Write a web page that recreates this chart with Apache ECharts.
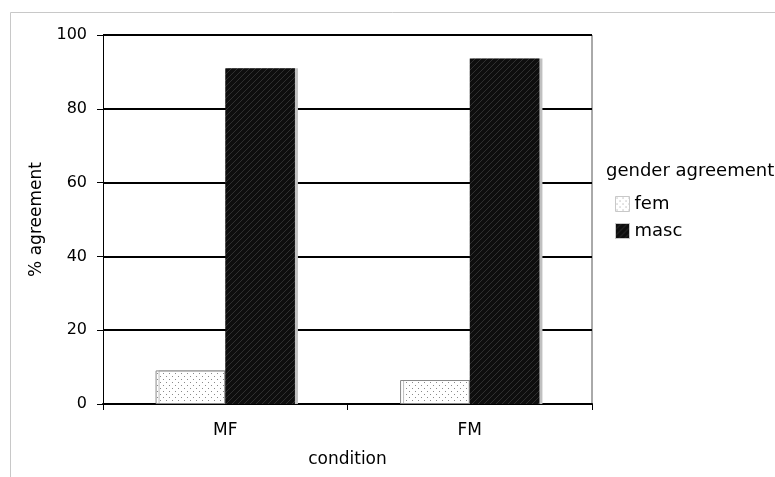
<!DOCTYPE html>
<html><head><meta charset="utf-8">
<script src="https://cdn.jsdelivr.net/npm/echarts@6/dist/echarts.min.js"></script>
<style>html,body{margin:0;padding:0;background:#fff}#c{width:775px;height:477px}</style>
</head><body><div id="c"></div>
<script>
const categories = ['MF', 'FM'];
const femValues = [9.1, 6.5];
const mascValues = [91.0, 93.6];
const seriesNames = ['fem', 'masc'];
const legendTitle = 'gender agreement';
const xName = 'condition';
const yName = '% agreement';

function makePattern(bg, fg, kind) {
  const c = document.createElement('canvas');
  c.width = 6; c.height = 6;
  const g = c.getContext('2d');
  g.fillStyle = bg; g.fillRect(0, 0, 6, 6);
  g.fillStyle = fg;
  if (kind === 'dots') {
    g.fillRect(1, 1, 1, 1);
    g.fillRect(4, 4, 1, 1);
  } else {
    for (let i = 0; i < 6; i++) {
      g.fillRect((i) % 6, 5 - i, 1, 1);
    }
  }
  return c;
}
const femPat = { image: makePattern('#ffffff', '#8a8a8a', 'dots'), repeat: 'repeat' };
const mascPat = { image: makePattern('#0e0e0e', '#303030', 'hatch'), repeat: 'repeat' };

const font = 'DejaVu Sans, Verdana, sans-serif';
const chart = echarts.init(document.getElementById('c'), null, { renderer: 'canvas' });
chart.setOption({
  animation: false,
  backgroundColor: '#fff',
  grid: { left: 103, right: 183, top: 35, bottom: 73 },
  graphic: [
    { type: 'polyline', shape: { points: [[10.5, 477], [10.5, 12.5], [775, 12.5]] },
      style: { stroke: '#c8c8c8', lineWidth: 1, fill: null } },
    { type: 'line', shape: { x1: 592, y1: 35, x2: 592, y2: 404 }, style: { stroke: '#555', lineWidth: 1 } },
    { type: 'text', left: 606, top: 162, style: { text: legendTitle, font: '18px ' + font, fill: '#000' } }
  ],
  legend: {
    left: 615, top: 195, padding: 0, orient: 'vertical', itemWidth: 14, itemHeight: 15, itemGap: 9,
    icon: 'rect', data: seriesNames,
    itemStyle: { borderColor: '#c8c8c8', borderWidth: 1, shadowColor: 'rgba(0,0,0,0)', shadowOffsetX: 0 },
    textStyle: { fontFamily: font, fontSize: 18, lineHeight: 18, color: '#000' }
  },
  xAxis: {
    type: 'category', data: categories,
    name: xName, nameLocation: 'middle', nameGap: 47,
    nameTextStyle: { fontFamily: font, fontSize: 17, color: '#000' },
    axisLine: { lineStyle: { color: '#000', width: 2 } },
    axisTick: { show: true, length: 6, lineStyle: { color: '#000' } },
    axisLabel: { fontFamily: font, fontSize: 17, color: '#000', margin: 18 }
  },
  yAxis: {
    type: 'value', min: 0, max: 100, interval: 20,
    name: yName, nameLocation: 'middle', nameGap: 53,
    nameTextStyle: { fontFamily: font, fontSize: 17, color: '#000' },
    axisLine: { show: true, lineStyle: { color: '#000', width: 1 } },
    axisTick: { show: true, length: 6, lineStyle: { color: '#000' } },
    axisLabel: { fontFamily: font, fontSize: 16, color: '#000', margin: 16 },
    splitLine: { lineStyle: { color: '#000', width: 2 } }
  },
  series: [
    { name: seriesNames[0], type: 'bar', data: femValues, barWidth: '28.5%', barGap: '0%',
      itemStyle: { color: femPat, borderColor: '#888', borderWidth: 1,
        shadowColor: '#c0c0c0', shadowOffsetX: 3, shadowBlur: 0 } },
    { name: seriesNames[1], type: 'bar', data: mascValues, barWidth: '28.5%', barGap: '0%',
      itemStyle: { color: mascPat, borderWidth: 0,
        shadowColor: '#c0c0c0', shadowOffsetX: 3, shadowBlur: 0 } }
  ]
});
</script>
</body></html>
